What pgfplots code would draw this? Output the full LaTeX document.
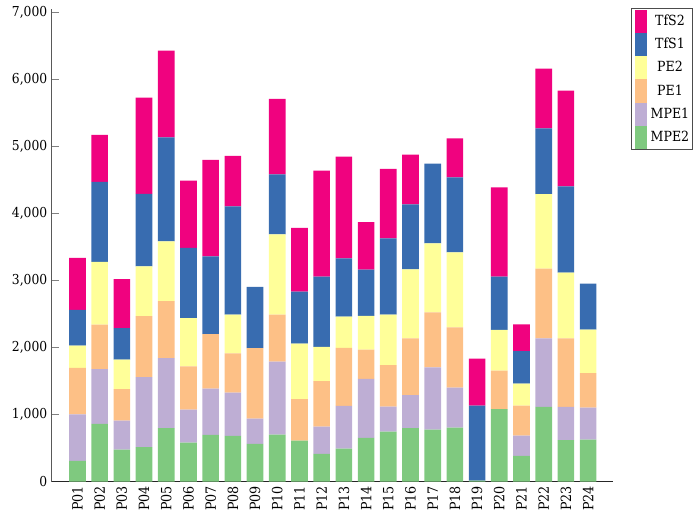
\documentclass[border=0pt]{standalone}
\usepackage{pgfplots}
\usepackage{pgfplotstable}
\pgfplotsset{compat=1.18}
\usepackage{fontspec}
\setmainfont{DejaVu Serif Condensed}
\definecolor{cMPE2}{HTML}{7FC97F}
\definecolor{cMPE1}{HTML}{BEAED4}
\definecolor{cPE1}{HTML}{FDC086}
\definecolor{cPE2}{HTML}{FFFF99}
\definecolor{cTfS1}{HTML}{386CB0}
\definecolor{cTfS2}{HTML}{F0027F}
\pgfplotstableread{
x MPE2 MPE1 PE1 PE2 TfS1 TfS2
0 309 695 693 333 532 777
1 861 816 666 936 1194 702
2 478 432 468 443 468 731
3 512 1045 911 746 1080 1437
4 796 1045 851 895 1552 1294
5 582 493 646 717 1050 1005
6 697 691 811 0 1164 1438
7 682 646 587 578 1616 752
8 562 378 1050 0 915 0
9 701 1090 702 1198 896 1125
10 612 0 617 831 776 950
11 413 408 677 512 1050 1582
12 493 636 866 468 870 1518
13 652 880 438 503 691 707
14 746 373 617 757 1139 1035
15 796 493 850 1030 970 742
16 776 930 821 1030 1189 0
17 806 597 900 1120 1119 582
18 15 0 0 0 1119 702
19 1080 0 577 607 796 1333
20 383 304 447 329 482 403
21 1114 1025 1040 1110 985 890
22 617 497 1025 980 1289 1428
23 627 477 513 652 686 0
}\data
\begin{document}
\begin{tikzpicture}
\begin{axis}[
  scale only axis,
  width=421.5pt, height=354.75pt,
  ybar stacked, bar width=12.5pt,
  xmin=-1.15, xmax=24.12,
  ymin=0, ymax=7050,
  axis x line=bottom, axis y line=left,
  x axis line style={-, black!85, line width=0.8pt},
  y axis line style={-, black!65, line width=0.8pt},
  xtick=data,
  xticklabels={P01,P02,P03,P04,P05,P06,P07,P08,P09,P10,P11,P12,P13,P14,P15,P16,P17,P18,P19,P20,P21,P22,P23,P24},
  x tick label style={rotate=90, anchor=east, font=\fontsize{10.6}{12}\selectfont},
  major x tick style={draw=none},
  ytick={0,1000,...,7000},
  scaled y ticks=false,
  y tick label style={font=\fontsize{10.3}{12}\selectfont, /pgf/number format/assume math mode=true, /pgf/number format/1000 sep={,}},
  major y tick style={black!50, line width=0.6pt},
  tick align=inside, major tick length=5pt,
  reverse legend,
  legend cell align=center,
  legend style={at={(1.032,1.002)}, anchor=north west, draw=black!70, line width=0.7pt,
    inner xsep=2.5pt, inner ysep=0.5pt, font=\fontsize{10.5}{12}\selectfont,
    row sep=0pt, column sep=3pt, nodes={inner sep=0pt}},
  legend image code/.code={\path (0pt,-8.75pt) rectangle (9pt,8.75pt); \fill[#1] (0pt,-6pt) rectangle (9pt,6pt);},
]
\addplot[fill=cMPE2, draw=none] table[x=x, y=MPE2] {\data};
\addplot[fill=cMPE1, draw=none] table[x=x, y=MPE1] {\data};
\addplot[fill=cPE1, draw=none] table[x=x, y=PE1] {\data};
\addplot[fill=cPE2, draw=none] table[x=x, y=PE2] {\data};
\addplot[fill=cTfS1, draw=none] table[x=x, y=TfS1] {\data};
\addplot[fill=cTfS2, draw=none] table[x=x, y=TfS2] {\data};
\legend{MPE2,MPE1,PE1,PE2,TfS1,TfS2}
\end{axis}
\path ([xshift=-39pt,yshift=7pt]current axis.north west) ([xshift=-39pt,yshift=-27pt]current axis.south west);
\end{tikzpicture}
\end{document}
